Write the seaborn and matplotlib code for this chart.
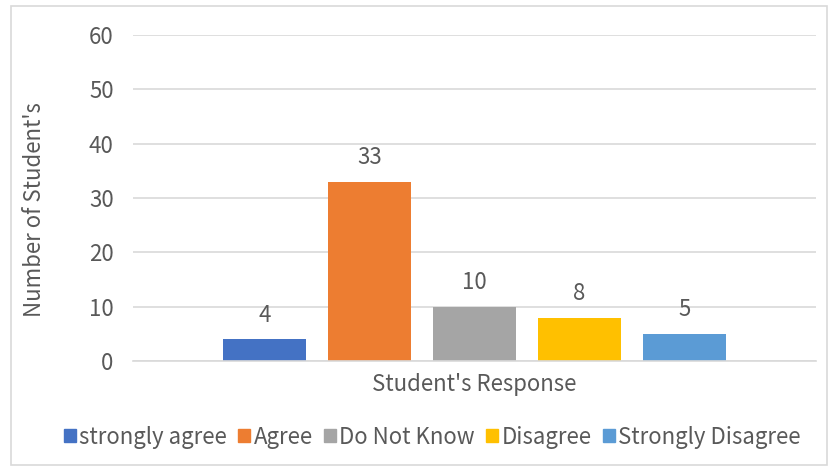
import matplotlib
matplotlib.use("Agg")
import matplotlib.pyplot as plt
import seaborn as sns
import pandas as pd
from matplotlib.patches import Rectangle

categories = ["Student's Response"]
series = ["strongly agree", "Agree", "Do Not Know", "Disagree", "Strongly Disagree"]
values = [4, 33, 10, 8, 5]
colors = ["#4472C4", "#ED7D31", "#A5A5A5", "#FFC000", "#5B9BD5"]
yticks = [0, 10, 20, 30, 40, 50, 60]

df = pd.DataFrame({"cat": categories * len(series), "series": series, "value": values})

sns.set_style("white")
plt.rcParams['font.family'] = ['Noto Sans CJK SC', 'DejaVu Sans']
plt.rcParams['font.weight'] = 'light'
txt = "#595959"
fs = 16

fig = plt.figure(figsize=(8.33, 4.69), dpi=100)
ax = fig.add_axes([0.1597, 0.2303, 0.8199, 0.6951])
sns.barplot(data=df, x="cat", y="value", hue="series", hue_order=series,
            palette=colors, width=0.769, gap=0.21, ax=ax, legend=False,
            saturation=1, edgecolor="none")

ax.set_ylim(0, 60)
ax.set_xlim(-0.5, 0.5)
ax.set_yticks(yticks)
ax.yaxis.grid(True, color="#d9d9d9", linewidth=1.2)
ax.set_axisbelow(True)
for s in ["top", "right", "left"]:
    ax.spines[s].set_visible(False)
ax.spines["bottom"].set_color("#d9d9d9")
ax.spines["bottom"].set_linewidth(1.2)
ax.tick_params(axis="y", length=0, labelsize=fs, labelcolor=txt, pad=14)
ax.tick_params(axis="x", length=0, labelsize=fs, labelcolor=txt, pad=9)
ax.set_xlabel("")
ax.set_ylabel("Number of Student's", fontsize=fs, color=txt)
ax.yaxis.set_label_coords(-0.128, 0.466)

for c in ax.containers:
    ax.bar_label(c, fontsize=fs, color=txt, padding=9)

handles = [Rectangle((0, 0), 1, 1, color=c) for c in colors]
fig.legend(handles, series, loc="center", bbox_to_anchor=(0.519, 0.068), ncol=5,
           frameon=False, fontsize=fs, labelcolor=txt, handlelength=0.55,
           handleheight=0.55, handletextpad=0.15, columnspacing=0.5)

fig.patches.append(Rectangle((11 / 833, 4 / 469), 816 / 833, 459 / 469,
                             transform=fig.transFigure, fill=False,
                             edgecolor="#d9d9d9", linewidth=1.2))

fig.savefig("out.png", dpi=100)
